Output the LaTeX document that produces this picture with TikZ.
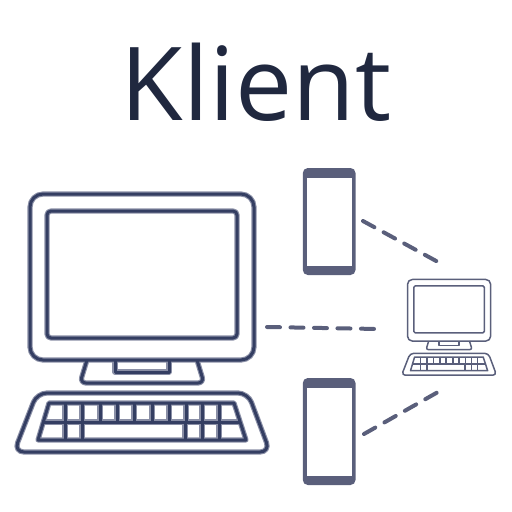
\documentclass[tikz,border=0pt]{standalone}
\usepackage{fontspec}
\setmainfont{Open Sans}
\definecolor{titleink}{HTML}{20283F}
\definecolor{deviceink}{HTML}{5A5F7B}
\definecolor{bigink}{HTML}{343E62}
\definecolor{bighalo}{HTML}{8A8FA6}
\definecolor{smallink}{HTML}{5A5F7B}
\tikzset{
  title/.style={text=titleink,font=\fontsize{102}{102}\selectfont,inner sep=0pt,anchor=base},
  linkline/.style={draw=deviceink,line width=4pt,line cap=round,dash pattern=on 13pt off 10.5pt},
  phonebody/.style={fill=deviceink,rounded corners=5pt},
  phonescreen/.style={fill=white}
}
\newcommand{\computerpaths}[3]{%
  % #1 colour, #2 line width, #3 scale of the corner radii
  \begin{scope}[draw=#1,line width=#2,line join=round]
    \draw[rounded corners=#3*13pt] (30,194) rectangle (254,360);
    \draw[rounded corners=#3*4pt] (47,211) rectangle (237,338);
    \draw[rounded corners=#3*6pt] (87,360) -- (80,383) -- (204,383) -- (197,360);
    \draw (115,360) -- (115,372) -- (169,372) -- (169,360);
    \draw[rounded corners=#3*10pt] (37,393) -- (248,393) -- (270,452) -- (14,452) -- cycle;
    \draw (49,403) -- (234,403) -- (246,440) -- (38,440) -- cycle;
    \draw (44,422) -- (240,422);
    \foreach \kx in {65,82,100,117,134,152,169,186,202,219} \draw (\kx,403) -- (\kx,422);
    \foreach \kx in {65,82,185,202,219} \draw (\kx,422) -- (\kx,440);
  \end{scope}%
}
\begin{document}
\begin{tikzpicture}[x=1pt,y=-1pt]
  \useasboundingbox (0,0) rectangle (512,512);
  \node[title] (heading) at (256,120) {Klient};

  % large computer
  \computerpaths{bighalo}{5.2pt}{1}
  \computerpaths{bigink}{3pt}{1}

  % small computer
  \begin{scope}[shift={(396.4,207.5)},scale=0.371]
    \computerpaths{smallink}{1.5pt}{0.371}
  \end{scope}

  % phones
  \fill[phonebody] (302.8,168) rectangle (355.5,275);
  \fill[phonescreen] (307.3,178) rectangle (351.5,266);
  \fill[phonebody] (302.8,378) rectangle (355.5,485);
  \fill[phonescreen] (307.3,388) rectangle (351.5,476);

  % dashed links
  \coordinate (phoneAout) at (363,221);
  \coordinate (smallA) at (438,262);
  \coordinate (bigout) at (267,327);
  \coordinate (smallB) at (378,329);
  \coordinate (phoneBout) at (364,434);
  \coordinate (smallC) at (438,392);
  \draw[linkline] (phoneAout) -- (smallA);
  \draw[linkline] (bigout) -- (smallB);
  \draw[linkline] (phoneBout) -- (smallC);
\end{tikzpicture}
\end{document}
